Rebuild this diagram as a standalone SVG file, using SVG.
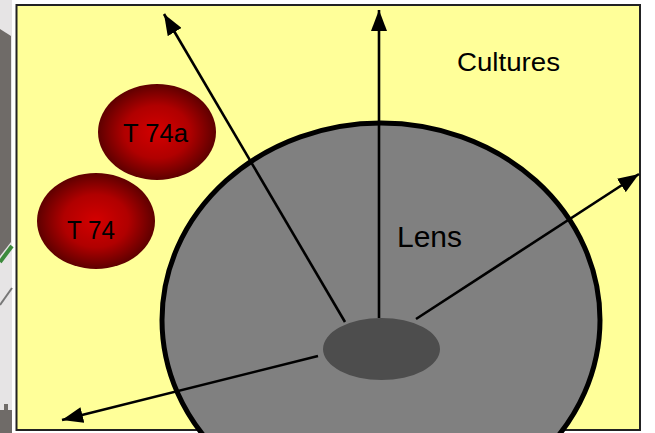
<svg xmlns="http://www.w3.org/2000/svg" width="655" height="433" viewBox="0 0 655 433">
<defs>
<style>
.arrow{stroke:#000;stroke-width:2.6;fill:none;marker-end:url(#ah)}
.lbl{font-family:"Liberation Sans",Arial,sans-serif;fill:#000}
</style>
<marker id="ah" markerUnits="userSpaceOnUse" markerWidth="22" markerHeight="16" viewBox="0 0 22 16" refX="21" refY="8" orient="auto">
<path d="M0,0 L21,8 L0,16 z" fill="#000"/>
</marker>
<radialGradient id="red" cx="50%" cy="50%" r="50%">
<stop offset="0" stop-color="#d40000"/>
<stop offset="0.55" stop-color="#b00000"/>
<stop offset="1" stop-color="#5e0000"/>
</radialGradient>
</defs>
<rect x="0" y="0" width="655" height="433" fill="#ffffff"/>
<!-- left strip -->
<g id="left-strip">
<rect x="0" y="0" width="12" height="433" fill="#e6e4e5"/>
<polygon points="0,29 11,36 11,242 0,256" fill="#6f6b68"/>
<path d="M0,262 L12,246" stroke="#3c8a3c" stroke-width="4"/>
<path d="M0,305 L12,288" stroke="#777" stroke-width="2"/>
<polygon points="0,410 4,410 4,404 8,404 8,410 12,410 12,433 0,433" fill="#6f6b68"/>
</g>
<!-- background panel -->
<rect x="16.5" y="5" width="623.5" height="425" fill="#ffff99" stroke="#222" stroke-width="2"/>
<g id="lens">
<ellipse cx="381" cy="320" rx="219" ry="197" fill="#808080" stroke="#000" stroke-width="5"/>
<text class="lbl" x="397" y="247" font-size="30">Lens</text>
</g>
<g id="core">
<ellipse cx="381.5" cy="349" rx="58.5" ry="31" fill="#4d4d4d"/>
</g>
<g id="cultures">
<text class="lbl" x="457" y="71" font-size="25" textLength="103" lengthAdjust="spacingAndGlyphs">Cultures</text>
</g>
<g id="t74a">
<ellipse cx="157" cy="132" rx="59" ry="48" fill="url(#red)"/>
<text class="lbl" x="123" y="142" font-size="25" textLength="65" lengthAdjust="spacingAndGlyphs">T 74a</text>
</g>
<g id="t74">
<ellipse cx="96" cy="221" rx="59" ry="48" fill="url(#red)"/>
<text class="lbl" x="67" y="239" font-size="25" textLength="48" lengthAdjust="spacingAndGlyphs">T 74</text>
</g>
<g id="connectors">
<line class="arrow" x1="379" y1="318" x2="379" y2="10"/>
<line class="arrow" x1="345" y1="322" x2="164" y2="14"/>
<line class="arrow" x1="416" y1="319" x2="639" y2="174"/>
<line class="arrow" x1="318" y1="356" x2="62" y2="420"/>
</g>
</svg>
